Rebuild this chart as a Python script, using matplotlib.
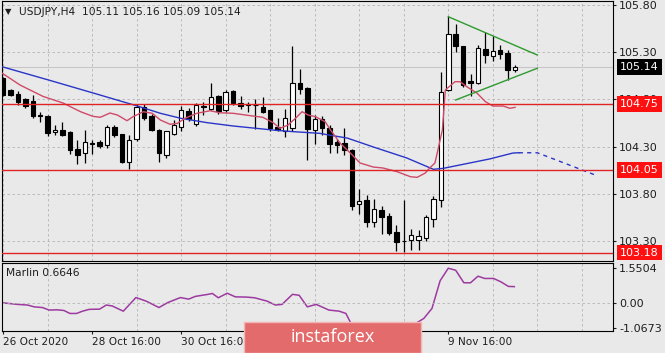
import numpy as np
import matplotlib.pyplot as plt
import matplotlib.transforms as mtransforms
from matplotlib.patches import Rectangle

# USDJPY H4 candles (one per bar, bar 0 = 26 Oct 16:00)
opens = [105.02, 104.90, 104.86, 104.80, 104.78, 104.63, 104.62, 104.45, 104.48, 104.45,
         104.28, 104.23, 104.33, 104.35, 104.32, 104.51, 104.43, 104.14, 104.38, 104.72,
         104.62, 104.48, 104.21, 104.43, 104.51, 104.68, 104.54, 104.72, 104.70, 104.83,
         104.69, 104.89, 104.76, 104.75, 104.745, 104.72, 104.69, 104.51, 104.47, 104.50,
         104.97, 104.92, 104.48, 104.59, 104.50, 104.35, 104.34, 104.26, 103.69, 103.74,
         103.50, 103.63, 103.57, 103.40, 103.30, 103.31, 103.31, 103.33, 103.54, 103.74,
         104.90, 105.49, 105.36, 104.99, 104.97, 105.33, 105.26, 105.32, 105.29, 105.11]
highs = [105.04, 104.91, 104.89, 104.81, 104.85, 104.67, 104.63, 104.53, 104.56, 104.47,
         104.37, 104.48, 104.37, 104.37, 104.53, 104.53, 104.43, 104.42, 104.75, 104.75,
         104.64, 104.49, 104.47, 104.58, 104.73, 104.71, 104.76, 104.77, 104.97, 104.85,
         104.90, 104.90, 104.83, 104.77, 104.80, 104.82, 104.69, 104.60, 104.70, 105.36,
         105.12, 104.93, 104.63, 104.62, 104.53, 104.38, 104.50, 104.27, 103.85, 103.79,
         103.75, 103.67, 103.60, 103.47, 103.74, 103.43, 103.42, 103.58, 103.78, 105.09,
         105.68, 105.60, 105.36, 105.07, 105.37, 105.51, 105.47, 105.37, 105.32, 105.16]
lows = [104.83, 104.83, 104.74, 104.71, 104.60, 104.56, 104.41, 104.42, 104.41, 104.22,
        104.12, 104.13, 104.22, 104.29, 104.29, 104.40, 104.13, 104.06, 104.36, 104.58,
        104.46, 104.14, 104.18, 104.42, 104.46, 104.57, 104.52, 104.63, 104.69, 104.64,
        104.67, 104.74, 104.70, 104.67, 104.49, 104.66, 104.46, 104.47, 104.40, 104.47,
        104.86, 104.16, 104.33, 104.42, 104.23, 104.23, 104.21, 103.63, 103.59, 103.45,
        103.45, 103.38, 103.37, 103.20, 103.19, 103.21, 103.21, 103.30, 103.45, 103.66,
        104.89, 105.30, 104.93, 104.83, 104.96, 105.18, 105.20, 105.23, 105.00, 105.09]
closes = [104.85, 104.85, 104.77, 104.73, 104.62, 104.62, 104.44, 104.48, 104.42, 104.26,
          104.21, 104.35, 104.34, 104.31, 104.51, 104.42, 104.14, 104.37, 104.72, 104.60,
          104.48, 104.23, 104.46, 104.53, 104.69, 104.59, 104.74, 104.73, 104.82, 104.68,
          104.88, 104.76, 104.73, 104.74, 104.74, 104.67, 104.50, 104.48, 104.60, 104.97,
          104.91, 104.49, 104.59, 104.50, 104.33, 104.32, 104.26, 103.67, 103.73, 103.50,
          103.64, 103.56, 103.39, 103.29, 103.30, 103.37, 103.35, 103.56, 103.75, 104.88,
          105.49, 105.36, 104.95, 104.97, 105.34, 105.27, 105.31, 105.275, 105.11, 105.14]

# fast moving average (red) and slow moving average (blue)
fast_x = [-0.4, 2.3, 5.4, 8.1, 10.4, 12.1, 13.1, 14.4, 15.4, 16.7, 17.5, 18.9, 20.1, 21.2,
          22.5, 23.5, 24.5, 26.1, 27.9, 29.2, 31.0, 33.7, 35.0, 36.4, 37.3, 38.4, 39.4,
          40.3, 41.1, 42.1, 43.4, 44.1, 45.4, 46.8, 48.1, 49.9, 51.2, 53.1, 54.9, 55.8,
          56.9, 57.5, 58.2, 58.6, 59.2, 59.6, 60.9, 61.6, 62.5, 63.9, 65.0, 66.0, 67.4,
          68.3, 69.0]
fast_v = [105.09, 104.95, 104.83, 104.76, 104.67, 104.62, 104.61, 104.655, 104.634, 104.574,
          104.616, 104.669, 104.652, 104.581, 104.536, 104.546, 104.599, 104.652, 104.679,
          104.658, 104.652, 104.623, 104.61, 104.553, 104.493, 104.528, 104.599, 104.669,
          104.634, 104.616, 104.563, 104.48, 104.338, 104.232, 104.127, 104.084, 104.074,
          104.035, 103.982, 103.975, 104.021, 104.074, 104.127, 104.264, 104.475, 104.898,
          104.986, 104.986, 104.933, 104.863, 104.775, 104.729, 104.729, 104.705, 104.715]
slow_x = [-0.4, 6.3, 12.6, 18.1, 21.2, 23.9, 27.5, 31.0, 36.4, 39.1, 42.7, 44.1, 46.4,
          49.9, 54.4, 58.0, 59.3, 62.9, 65.6, 68.7, 69.5]
slow_v = [105.15, 105.00, 104.856, 104.729, 104.652, 104.60, 104.553, 104.518, 104.475,
          104.458, 104.44, 104.42, 104.39, 104.296, 104.18, 104.06, 104.07, 104.127,
          104.17, 104.232, 104.235]
slow_proj_x = [69.5, 72.0, 75.5, 79.8]
slow_proj_v = [104.235, 104.235, 104.13, 104.0]

# triangle lines
tri_upper_x = [60, 72]
tri_upper_v = [105.673, 105.268]
tri_lower_x = [61, 72]
tri_lower_v = [104.793, 105.128]

levels = [104.75, 104.05, 103.18]
last_price = 105.14

# Marlin oscillator
marlin_x = [-0.1, 1.9, 3.3, 4.2, 5.3, 6.2, 7.3, 8.2, 9.0, 9.9, 10.7, 11.6, 13.0, 13.9, 14.7,
            16.2, 17.9, 19.3, 21.0, 22.2, 23.9, 25.0, 25.9, 27.6, 28.2, 29.0, 30.2, 31.3,
            32.8, 33.9, 35.6, 36.7, 37.6, 39.0, 39.9, 41.0, 42.2, 43.9, 45.3, 46.2, 47.0,
            47.8, 49.5, 51.5, 53.5, 55.5, 56.7, 57.8, 58.9, 60.0, 61.0, 62.1, 63.0, 64.0,
            64.9, 66.1, 67.1, 68.1, 68.9]
marlin_v = [0.03, -0.04, -0.07, -0.15, -0.18, -0.29, -0.28, -0.31, -0.44, -0.44, -0.34,
            -0.26, -0.25, -0.07, -0.11, -0.34, 0.26, 0.10, -0.18, 0.04, 0.26, 0.19, 0.31,
            0.40, 0.44, 0.25, 0.45, 0.29, 0.28, 0.25, 0.10, -0.07, -0.04, 0.40, 0.36,
            -0.15, -0.04, -0.29, -0.34, -0.44, -0.95, -1.0673, -1.01, -1.04, -1.06, -0.90,
            -0.66, -0.22, 1.00, 1.5504, 1.46, 0.91, 0.91, 1.20, 1.10, 1.10, 0.95, 0.75, 0.74]

# labels at bars 36 and 48 sit under the banner in the original
date_pos = [0, 12, 24, 36, 48, 60]
date_labels = ['26 Oct 2020', '28 Oct 16:00', '30 Oct 16:00', '', '', '9 Nov 16:00']
price_ticks = [103.30, 103.80, 104.30, 104.80, 105.30, 105.80]
marlin_ticks = [-1.0673, 0.0, 1.5504]

bg = '#e9e9e9'
grid_kw = dict(color='#b4b4b4', linestyle=(0, (3, 3)), linewidth=0.6)
plt.rcParams['font.family'] = 'DejaVu Sans'
plt.rcParams['font.size'] = 8

W, H = 665, 353
fig = plt.figure(figsize=(W / 100, H / 100), dpi=100, facecolor=bg)
ax = fig.add_axes([2 / W, 1 - 261 / H, 611 / W, 260 / H], facecolor=bg)
ax2 = fig.add_axes([2 / W, 1 - 330.5 / H, 611 / W, 67.5 / H], facecolor=bg)

idx = np.arange(len(opens))
o = np.array(opens); h = np.array(highs); l = np.array(lows); c = np.array(closes)
up = c >= o
ax.vlines(idx, l, h, color='black', lw=0.9, zorder=2)
ax.bar(idx, np.maximum(np.abs(c - o), 0.004), width=0.6, bottom=np.minimum(o, c),
       color=np.where(up, 'white', 'black'), edgecolor='black', lw=0.8, zorder=3)

ax.axhline(last_price, color='#c6c6c6', lw=0.8, zorder=1)
ax.plot(slow_x, slow_v, color='#2a35c8', lw=1.0, zorder=4)
ax.plot(slow_proj_x, slow_proj_v, color='#2a35c8', lw=1.0, ls=(0, (3, 3)), zorder=4)
ax.plot(fast_x, fast_v, color='#d04a68', lw=1.0, zorder=4)
for lv in levels:
    ax.axhline(lv, color='#e02424', lw=1.0, zorder=5)
ax.plot(tri_upper_x, tri_upper_v, color='#2f9a2f', lw=1.0, zorder=5)
ax.plot(tri_lower_x, tri_lower_v, color='#2f9a2f', lw=1.0, zorder=5)

for a in (ax, ax2):
    a.set_xlim(-0.15, 82.2)
    a.set_xticks(np.arange(0, 82, 6), minor=True)
    a.grid(True, which='minor', axis='x', **grid_kw)
    for s in a.spines.values():
        s.set_color('black')
        s.set_linewidth(0.8)
    a.yaxis.tick_right()
    a.tick_params(axis='y', direction='out', length=2.5, pad=2, colors='#1e1e1e',
                  labelsize=8)
    a.tick_params(axis='x', which='minor', length=0)

ax.set_ylim(103.091, 105.839)
ax.set_yticks(price_ticks)
ax.set_yticklabels([f'{p:.2f}' for p in price_ticks])
ax.grid(True, which='major', axis='y', **grid_kw)
ax.set_xticks([])

tr = mtransforms.blended_transform_factory(ax.transAxes, ax.transData)
for p, fc in [(last_price, 'black')] + [(lv, '#ff1010') for lv in levels]:
    ax.text(1.0115, p, f'{p:.2f}', transform=tr, ha='left', va='center', color='white',
            fontsize=8, zorder=6, clip_on=False,
            bbox=dict(boxstyle='square,pad=0.25', fc=fc, ec='none'))

ax2.plot(marlin_x, marlin_v, color='#9c3aa0', lw=1.1)
ax2.set_ylim(-1.19, 1.78)
ax2.set_yticks(marlin_ticks)
ax2.set_yticklabels(['-1.0673', '0.00', '1.5504'])
ax2.axhline(0, **grid_kw)
ax2.set_xticks(date_pos)
ax2.set_xticklabels(date_labels, ha='left')
ax2.tick_params(axis='x', which='major', direction='out', length=2.5, pad=2,
                colors='#1e1e1e', labelsize=7.6)

fig.text(5 / W, 1 - 12 / H, '\u25bc', fontsize=6, va='center', color='#1e1e1e')
fig.text(19 / W, 1 - 12 / H, 'USDJPY,H4  105.11 105.16 105.09 105.14', fontsize=7.7,
         va='center', color='#1e1e1e')
fig.text(6 / W, 1 - 273 / H, 'Marlin 0.6646', fontsize=7.7, va='center', color='#1e1e1e')

fig.patches.append(Rectangle((244 / W, 0), 177 / W, 31 / H, transform=fig.transFigure,
                             fc='#e46b6b', ec='#f3b4b4', lw=1.0, zorder=10))
fig.text(333 / W, 1 - 337 / H, 'instaforex', fontsize=13, color='white', ha='center',
         va='center', family='Open Sans', zorder=11)

fig.savefig('out.png', dpi=100, facecolor=bg)
